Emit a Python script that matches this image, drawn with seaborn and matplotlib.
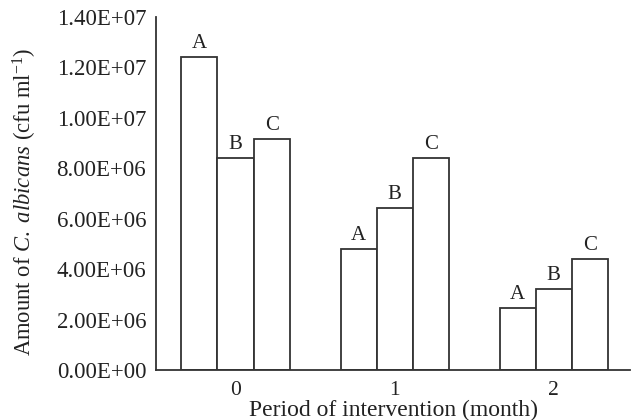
import pandas as pd
import seaborn as sns
import matplotlib.pyplot as plt

# values (cfu/ml)
periods = ['0', '1', '2']
groups = ['A', 'B', 'C']
group_a = [1.242e7, 4.81e6, 2.46e6]
group_b = [8.39e6, 6.42e6, 3.20e6]
group_c = [9.15e6, 8.39e6, 4.40e6]
y_ticks = [0, 2e6, 4e6, 6e6, 8e6, 1e7, 1.2e7, 1.4e7]
y_tick_labels = ['0.00E+00', '2.00E+06', '4.00E+06', '6.00E+06',
                 '8.00E+06', '1.00E+07', '1.20E+07', '1.40E+07']


def build_frame():
    rows = []
    for g, vals in zip(groups, [group_a, group_b, group_c]):
        for p, v in zip(periods, vals):
            rows.append({'Period': p, 'Group': g, 'Amount': v})
    return pd.DataFrame(rows)


def main():
    df = build_frame()
    sns.set_style('white')
    plt.rcParams['font.family'] = ['Liberation Serif', 'DejaVu Serif']
    plt.rcParams['mathtext.fontset'] = 'custom'
    plt.rcParams['mathtext.rm'] = 'Liberation Serif'
    plt.rcParams['mathtext.it'] = 'Liberation Serif:italic'

    fig = plt.figure(figsize=(6.34, 4.2), dpi=100)
    ax = fig.add_axes([0.246, 0.119, 0.748, 0.8405])

    sns.barplot(data=df, x='Period', y='Amount', hue='Group', order=periods,
                hue_order=groups, palette={g: 'white' for g in groups},
                edgecolor='#333333', linewidth=1.3, width=0.68,
                errorbar=None, legend=False, ax=ax)

    for cont, g in zip(ax.containers, groups):
        ax.bar_label(cont, labels=[g] * len(cont), padding=3, fontsize=15,
                     color='#222222')

    ax.set_xlim(-0.5, 2.48)
    ax.set_ylim(0, 1.4e7)
    ax.set_yticks(y_ticks)
    ax.set_yticklabels(y_tick_labels, fontsize=16.5, color='#222222')
    ax.set_xticks([-0.5, 0.5, 1.5])
    ax.set_xticklabels([])
    ax.set_xticks([0, 1, 2], minor=True)
    ax.set_xticklabels(periods, minor=True, fontsize=15.5, color='#222222')
    ax.tick_params(axis='x', which='minor', length=0, pad=8)
    ax.tick_params(axis='both', which='major', direction='out', length=5,
                   width=1.2, color='#333333')
    ax.tick_params(axis='y', pad=2)

    for side in ['top', 'right']:
        ax.spines[side].set_visible(False)
    for side in ['left', 'bottom']:
        ax.spines[side].set_color('#333333')
        ax.spines[side].set_linewidth(1.3)

    ax.set_xlabel('Period of intervention (month)', fontsize=17, labelpad=0,
                  color='#222222')
    ax.set_ylabel(r'Amount of $\mathit{C.\ albicans}$ (cfu ml$^{\mathrm{-1}}$)',
                  fontsize=16.3, color='#222222')
    ax.yaxis.set_label_coords(-0.247, 0.475)

    fig.savefig('out.png', dpi=100)


if __name__ == "__main__":
    main()
